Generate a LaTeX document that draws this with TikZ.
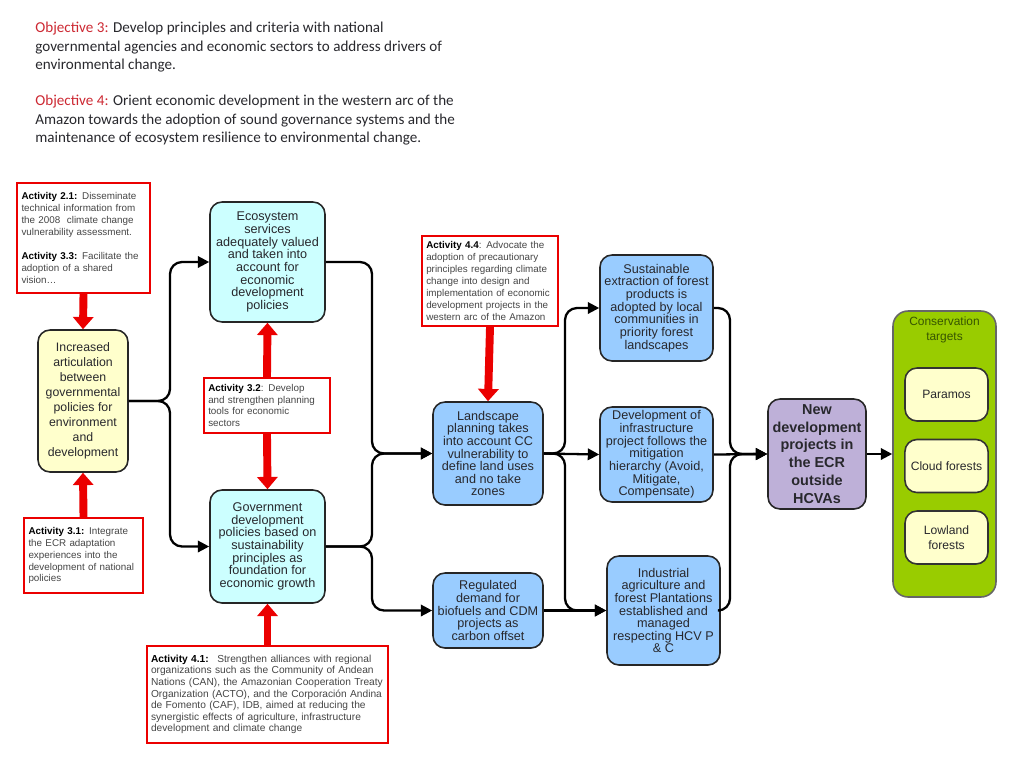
\documentclass[tikz,border=0pt]{standalone}
\usepackage{fontspec}
\setmainfont{Liberation Sans}
\newfontfamily\objfont{Carlito}
\usetikzlibrary{arrows.meta}
\definecolor{objred}{RGB}{205,40,50}
\definecolor{txtgray}{RGB}{40,40,45}
\definecolor{actgray}{RGB}{70,70,70}
\definecolor{boxyellow}{RGB}{255,255,204}
\definecolor{boxcyan}{RGB}{204,255,255}
\definecolor{boxblue}{RGB}{153,204,255}
\definecolor{boxpurple}{RGB}{190,176,216}
\definecolor{consgreen}{RGB}{153,204,0}
\definecolor{consdark}{RGB}{55,85,0}
\definecolor{arrred}{RGB}{235,0,0}
\tikzset{
  flowbox/.style={draw=black!85, line width=0.9pt, rounded corners=0.24cm, align=center,
    inner sep=1pt, text=txtgray, font=\fontsize{7.2}{7.2}\selectfont},
  actbox/.style={draw=arrred, line width=1.2pt, fill=white, align=left, inner sep=2.5pt,
    text=actgray, font=\fontsize{5.6}{6.8}\selectfont, anchor=center},
  conn/.style={draw=black, line width=1.3pt, rounded corners=0.24cm,
    -{Triangle[length=6.5pt,width=6.5pt]}},
  redarr/.style={draw=arrred, line width=4.5pt, -{Triangle[length=7pt,width=11.5pt]}},
  target/.style={draw=black!80, line width=0.9pt, fill=boxyellow, rounded corners=0.24cm,
    minimum width=1.66cm, minimum height=1.06cm, align=center, text=txtgray,
    font=\fontsize{6.9}{8.2}\selectfont}
}
\begin{document}
\begin{tikzpicture}[x=0.02cm,y=-0.02cm]
\useasboundingbox (0,0) rectangle (1024,768);
\fill[white] (0,0) rectangle (1024,768);

% Objectives
\node[anchor=north west, align=left, inner sep=0pt, text=txtgray,
  font=\objfont\fontsize{8.6}{10.5}\selectfont] (obj3) at (35,22)
  {\textcolor{objred}{Objective 3:} Develop principles and criteria with national\\
   governmental agencies and economic sectors to address drivers of\\
   environmental change.};
\node[anchor=north west, align=left, inner sep=0pt, text=txtgray,
  font=\objfont\fontsize{8.6}{10.5}\selectfont] (obj4) at (35,95)
  {\textcolor{objred}{Objective 4:} Orient economic development in the western arc of the\\
   Amazon towards the adoption of sound governance systems and the\\
   maintenance of ecosystem resilience to environmental change.};

% Flow boxes
\node[flowbox, fill=boxyellow, minimum width=1.8cm, minimum height=2.84cm,
  font=\fontsize{7.0}{8.5}\selectfont] (inc) at (83,401)
  {Increased\\ articulation\\ between\\ governmental\\ policies for\\ environment\\ and\\ development};
\node[flowbox, fill=boxcyan, minimum width=2.3cm, minimum height=2.4cm] (eco) at (267.5,262)
  {Ecosystem\\ services\\ adequately valued\\ and taken into\\ account for\\ economic\\ development\\ policies};
\node[flowbox, fill=boxcyan, minimum width=2.3cm, minimum height=2.26cm] (gov) at (267.5,546.5)
  {Government\\ development\\ policies based on\\ sustainability\\ principles as\\ foundation for\\ economic growth};
\node[flowbox, fill=boxblue, minimum width=2.2cm, minimum height=2.06cm] (land) at (488,453.5)
  {Landscape\\ planning takes\\ into account CC\\ vulnerability to\\ define land uses\\ and no take\\ zones};
\node[flowbox, fill=boxblue, minimum width=2.2cm, minimum height=1.5cm] (reg) at (488,610.5)
  {Regulated\\ demand for\\ biofuels and CDM\\ projects as\\ carbon offset};
\node[flowbox, fill=boxblue, minimum width=2.26cm, minimum height=2.12cm] (sus) at (656.5,308)
  {Sustainable\\ extraction of forest\\ products is\\ adopted by local\\ communities in\\ priority forest\\ landscapes};
\node[flowbox, fill=boxblue, minimum width=2.26cm, minimum height=1.9cm] (dev) at (656.5,454.5)
  {Development of\\ infrastructure\\ project follows the\\ mitigation\\ hierarchy (Avoid,\\ Mitigate,\\ Compensate)};
\node[flowbox, fill=boxblue, minimum width=2.26cm, minimum height=2.18cm] (ind) at (663.5,610.5)
  {Industrial\\ agriculture and\\ forest Plantations\\ established and\\ managed\\ respecting HCV P\\ \& C};
\node[flowbox, fill=boxpurple, minimum width=1.96cm, minimum height=2.2cm,
  font=\fontsize{8.2}{10.2}\selectfont\bfseries] (new) at (817,454)
  {New\\ development\\ projects in\\ the ECR\\ outside\\ HCVAs};

% Conservation targets
\node[draw=black!60, line width=0.9pt, fill=consgreen, rounded corners=0.3cm,
  minimum width=2.06cm, minimum height=5.72cm] (cons) at (944.5,454) {};
\node[align=center, text=consdark, inner sep=0pt, font=\fontsize{6.8}{8.2}\selectfont]
  (conslbl) at (944.5,330) {Conservation\\ targets};
\node[target] (par) at (946.5,394.5) {Paramos};
\node[target] (cloud) at (946.5,466) {Cloud forests};
\node[target] (low) at (946.5,537.5) {Lowland\\ forests};

% Activity boxes
\node[actbox, minimum width=2.66cm, minimum height=2.2cm, text width=2.48cm] (a21) at (83.5,238)
  {\textbf{\color{black}Activity 2.1:} Disseminate\\ technical information from\\ the 2008~ climate change\\ vulnerability assessment.\\[6.8pt]
   \textbf{\color{black}Activity 3.3:} Facilitate the\\ adoption of a shared\\ vision…};
\node[actbox, minimum width=2.38cm, minimum height=1.5cm, text width=2.2cm] (a31) at (83.5,555.5)
  {\textbf{\color{black}Activity 3.1:} Integrate\\ the ECR adaptation\\ experiences into the\\ development of national\\ policies};
\node[actbox, minimum width=2.52cm, minimum height=1.1cm, text width=2.35cm] (a32) at (267,405.5)
  {\textbf{\color{black}Activity 3.2}: Develop\\ and strengthen planning\\ tools for economic\\ sectors};
\node[actbox, minimum width=4.78cm, minimum height=1.94cm, text width=4.66cm,
  font=\fontsize{5.8}{6.6}\selectfont] (a41) at (267.5,694.5)
  {\textbf{\color{black}Activity 4.1:}~ Strengthen alliances with regional\\ organizations such as the Community of Andean\\ Nations (CAN), the Amazonian Cooperation Treaty\\ Organization (ACTO), and the Corporación Andina\\ de Fomento (CAF), IDB, aimed at reducing the\\ synergistic effects of agriculture, infrastructure\\ development and climate change};
\node[actbox, minimum width=2.72cm, minimum height=1.8cm, text width=2.55cm] (a44) at (490,281)
  {\textbf{\color{black}Activity 4.4}: Advocate the\\ adoption of precautionary\\ principles regarding climate\\ change into design and\\ implementation of economic\\ development projects in the\\ western arc of the Amazon};

% Bus coordinates
\coordinate (b1) at (170,401);
\coordinate (b2) at (372,262);
\coordinate (b3) at (372,546.5);
\coordinate (b4) at (565,453.5);
\coordinate (b5) at (730,308);
\coordinate (b6) at (730,610.5);

% Black connectors
\draw[conn] (inc.east) -- (b1) |- (eco.west);
\draw[conn] (inc.east) -- (b1) |- (gov.west);
\draw[conn] (eco.east) -- (b2) |- (land.west);
\draw[conn] (gov.east) -- (b3) |- (land.west);
\draw[conn] (gov.east) -- (b3) |- (reg.west);
\draw[conn] (land.east) -- (b4) |- (sus.west);
\draw[conn] (land.east) -- (dev.west);
\draw[conn] (land.east) -- (b4) |- (ind.west);
\draw[conn] (reg.east) -- (ind.west);
\draw[conn] (sus.east) -- (b5) |- (new.west);
\draw[conn] (dev.east) -- (new.west);
\draw[conn] (ind.east) -- (b6) |- (new.west);
\draw[conn] (new.east) -- (cons.west);

% Red arrows
\draw[redarr] (a21.south) -- (inc.north);
\draw[redarr] (a31.north) -- (inc.south);
\draw[redarr] (a32.north) -- (eco.south);
\draw[redarr] (a32.south) -- (gov.north);
\draw[redarr] (a41.north) -- (gov.south);
\draw[redarr] (a44.south) -- (land.north);
\end{tikzpicture}
\end{document}
